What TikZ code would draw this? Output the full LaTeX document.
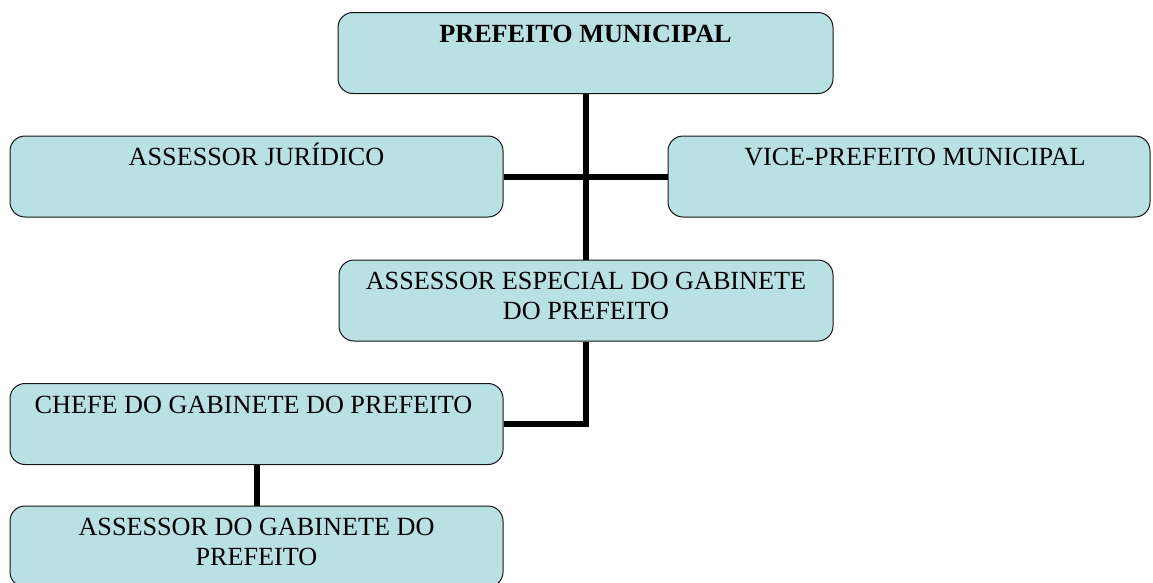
\documentclass[tikz,border=0pt]{standalone}
\usepackage{fontspec}
\setmainfont{Liberation Serif}
\definecolor{boxfill}{RGB}{185,224,227}
\definecolor{boxline}{RGB}{20,20,20}
\begin{document}
\begin{tikzpicture}[x=1pt,y=-1pt,
  box/.style={draw=boxline, line width=1pt, fill=boxfill, rounded corners=15pt,
    minimum width=#1, minimum height=81pt, inner sep=0pt},
  lbl/.style={anchor=north, inner sep=0pt, align=center,
    font=\fontsize{26.2}{30}\selectfont, yshift=-6pt},
  conn/.style={line width=6pt, draw=black}]
\useasboundingbox (0,0) rectangle (1153,582);
% boxes
\node[box=495pt] (pm) at (585.5,53) {};
\node[box=493pt] (aj) at (256.5,176.5) {};
\node[box=482pt] (vp) at (909,176.5) {};
\node[box=494pt] (ae) at (586,300.5) {};
\node[box=493pt] (cg) at (256.5,424) {};
\node[box=493pt] (ag) at (256.5,546.5) {};
% connectors
\draw[conn] (pm.south) -- (pm.south |- ae.north);
\draw[conn] (aj.east) -- (vp.west);
\draw[conn] (ae.south) |- (cg.east);
\draw[conn] (cg.south) -- (ag.north);
% texts
\node[lbl] (pmt) at (pm.north) {\rule{0pt}{24pt}\textbf{PREFEITO MUNICIPAL}};
\node[lbl] (ajt) at (aj.north) {\rule{0pt}{24pt}ASSESSOR JURÍDICO};
\node[lbl, xshift=6pt] (vpt) at (vp.north) {\rule{0pt}{24pt}VICE-PREFEITO MUNICIPAL};
\node[lbl] (aet) at (ae.north) {\rule{0pt}{24pt}ASSESSOR ESPECIAL DO GABINETE\\DO PREFEITO};
\node[lbl, xshift=-3pt] (cgt) at (cg.north) {\rule{0pt}{24pt}CHEFE DO GABINETE DO PREFEITO};
\node[lbl] (agt) at (ag.north) {\rule{0pt}{24pt}ASSESSOR DO GABINETE DO\\PREFEITO};
\end{tikzpicture}
\end{document}
